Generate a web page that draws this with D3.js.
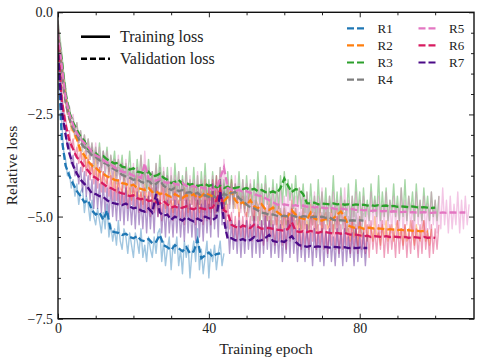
<!DOCTYPE html>
<html>
<head>
<meta charset="utf-8">
<script src="https://cdn.jsdelivr.net/npm/d3@7"></script>
<style>
  body { margin: 0; background: #fff; }
  text { font-family: "Liberation Serif", "Times New Roman", serif; fill: #222; }
</style>
</head>
<body>
<svg id="chart" width="479" height="361"></svg>
<script>
// runs, one colour each
const runNames = ["R1", "R2", "R3", "R4", "R5", "R6", "R7"];
const runColors = ["#1f77b4", "#ff7f0e", "#2ca02c", "#7f7f7f", "#e377c2", "#d81b60", "#4b0a87"];

// validation loss per epoch (index = epoch)
const valR1 = [-1.0,-3.1,-3.75,-4.0,-4.2,-4.38,-4.5,-4.65,-4.6,-4.85,-4.95,-4.9,-5.08,-4.85,-5.35,-5.38,-5.4,-5.45,-5.42,-5.5,
  -5.53,-5.48,-5.58,-5.6,-5.55,-5.65,-5.62,-5.45,-5.7,-5.75,-5.82,-5.7,-5.78,-5.85,-5.75,-5.9,-5.85,-5.57,-6.02,-5.95,
  -5.88,-5.98,-5.92,-5.9];
const valR2 = [-0.6,-1.45,-2.1,-2.6,-2.88,-3.1,-3.4,-3.5,-3.65,-3.75,-3.8,-3.9,-3.95,-4.02,-4.05,-4.1,-4.12,-4.18,-4.2,-4.25,
  -4.22,-4.3,-4.32,-4.35,-4.3,-4.4,-4.38,-4.45,-4.42,-4.48,-4.52,-4.45,-4.5,-4.55,-4.48,-4.5,-4.45,-4.55,-4.5,-4.42,
  -4.47,-4.5,-4.6,-4.55,-4.62,-4.52,-4.38,-4.6,-4.7,-4.65,-4.72,-4.6,-4.75,-4.8,-4.7,-4.82,-4.84,-4.78,-4.88,-4.95,
  -5.0,-4.98,-4.85,-4.95,-5.02,-5.05,-5.08,-4.9,-5.05,-5.08,-5.1,-5.06,-5.08,-5.05,-4.95,-4.88,-5.0,-5.22,-5.26,-5.28,
  -5.26,-5.3,-5.27,-5.28,-5.3,-5.29,-5.3,-5.32,-5.31,-5.32,-5.33,-5.32,-5.34,-5.33,-5.35,-5.34,-5.36,-5.35,-5.37];
const valR3 = [-0.5,-1.17,-1.98,-2.45,-2.7,-2.88,-3.05,-3.15,-3.35,-3.4,-3.45,-3.55,-3.52,-3.6,-3.65,-3.7,-3.68,-3.78,-3.8,-3.85,
  -3.82,-3.9,-3.92,-3.95,-3.9,-4.02,-4.0,-3.95,-4.05,-4.1,-4.18,-4.15,-4.1,-4.2,-4.18,-4.22,-4.2,-4.25,-4.23,-4.2,
  -4.25,-4.22,-4.28,-4.25,-4.3,-4.27,-4.32,-4.3,-4.28,-4.33,-4.3,-4.35,-4.32,-4.38,-4.35,-4.4,-4.42,-4.38,-4.43,-4.3,
  -4.07,-4.25,-4.4,-4.33,-4.35,-4.45,-4.67,-4.68,-4.66,-4.7,-4.68,-4.69,-4.7,-4.68,-4.7,-4.69,-4.71,-4.7,-4.72,-4.7,
  -4.72,-4.71,-4.73,-4.72,-4.74,-4.72,-4.74,-4.73,-4.75,-4.74,-4.76,-4.75,-4.76,-4.77,-4.75,-4.77,-4.78,-4.77,-4.78,-4.79,
  -4.78];
const valR4 = [-0.6,-1.5,-2.2,-2.6,-2.85,-3.0,-3.2,-3.3,-3.4,-3.5,-3.55,-3.62,-3.68,-3.72,-3.8,-3.85,-3.9,-3.98,-4.02,-4.05,
  -4.1,-4.08,-4.15,-4.18,-4.12,-4.22,-4.2,-4.1,-4.25,-4.3,-4.35,-4.3,-4.38,-4.35,-4.42,-4.4,-4.45,-4.42,-4.5,-4.48,
  -4.52,-4.48,-4.55,-4.5,-4.45,-4.48,-4.42,-4.4,-4.55,-4.62,-4.7,-4.78,-4.8,-4.85,-4.9,-4.92,-4.96,-4.95,-4.98,-5.0,
  -4.98,-5.0,-4.97,-5.0,-5.02,-4.99,-5.0,-5.02,-5.0,-5.01,-5.0,-5.03,-5.02,-5.08,-5.1,-5.09,-5.1,-5.1,-5.09,-5.1,
  -5.09,-5.1];
const valR5 = [-0.5,-1.3,-2.05,-2.5,-2.75,-2.95,-3.1,-3.2,-3.3,-3.42,-3.5,-3.55,-3.62,-3.68,-3.72,-3.8,-3.85,-3.9,-3.92,-3.95,
  -4.0,-4.02,-4.05,-3.7,-4.08,-4.1,-4.12,-4.08,-4.15,-4.18,-4.15,-4.2,-4.22,-4.18,-4.25,-4.28,-4.25,-4.3,-4.28,-4.32,
  -4.3,-4.35,-4.32,-4.05,-3.8,-4.3,-4.35,-4.38,-4.35,-4.4,-4.38,-4.42,-4.45,-4.48,-4.5,-4.55,-4.6,-4.65,-4.7,-4.72,
  -4.7,-4.72,-4.74,-4.72,-4.75,-4.73,-4.76,-4.75,-4.78,-4.76,-4.78,-4.8,-4.78,-4.8,-4.82,-4.8,-4.82,-4.83,-4.81,-4.84,
  -4.83,-4.85,-4.84,-4.86,-4.85,-4.86,-4.87,-4.86,-4.88,-4.87,-4.88,-4.89,-4.88,-4.9,-4.89,-4.9,-4.9,-4.89,-4.9,-4.91,
  -4.9,-4.91,-4.9,-4.91,-4.9,-4.9,-4.91,-4.9,-4.9];
const valR6 = [-0.8,-2.15,-2.75,-3.13,-3.35,-3.55,-3.65,-3.78,-3.88,-4.0,-4.05,-4.12,-4.2,-4.27,-4.3,-4.35,-4.4,-4.43,-4.45,-4.5,
  -4.48,-4.55,-4.58,-4.55,-4.62,-4.6,-4.65,-4.68,-4.62,-4.7,-4.78,-4.75,-4.8,-4.78,-4.75,-4.8,-4.82,-4.78,-4.8,-4.82,
  -4.8,-4.78,-4.6,-4.35,-4.85,-4.9,-5.2,-5.25,-5.28,-5.22,-5.25,-5.28,-5.2,-5.25,-5.3,-5.28,-5.28,-5.3,-5.32,-5.33,
  -5.35,-5.3,-5.14,-5.35,-5.38,-5.36,-5.38,-5.35,-5.38,-5.4,-5.37,-5.38,-5.4,-5.42,-5.4,-5.42,-5.4,-5.43,-5.45,-5.44,
  -5.46,-5.48,-5.47,-5.5,-5.48,-5.49,-5.5,-5.48,-5.5,-5.49,-5.5,-5.51,-5.5,-5.52,-5.5,-5.51,-5.52,-5.5,-5.52,-5.51,
  -5.52];
const valR7 = [-1.0,-2.4,-3.0,-3.45,-3.75,-3.95,-4.1,-4.2,-4.3,-4.43,-4.45,-4.5,-4.52,-4.6,-4.65,-4.68,-4.7,-4.72,-4.68,-4.75,
  -4.8,-4.78,-4.85,-4.88,-4.8,-4.9,-4.45,-4.9,-4.98,-4.95,-5.08,-5.0,-5.05,-5.1,-5.02,-5.08,-5.12,-5.05,-5.1,-5.0,
  -5.04,-5.08,-5.02,-4.4,-5.1,-5.55,-5.53,-5.58,-5.58,-5.55,-5.6,-5.57,-5.5,-5.6,-5.58,-5.52,-5.45,-5.6,-5.62,-5.6,
  -5.62,-5.55,-5.48,-5.62,-5.7,-5.72,-5.74,-5.72,-5.74,-5.73,-5.75,-5.74,-5.76,-5.74,-5.75,-5.76,-5.75,-5.77,-5.76,-5.77,
  -5.76,-5.77,-5.77];

// training loss, two points per epoch (index / 2 = epoch)
const trainStep = 0.5;
const trainR1 = [-0.4,-1.9,-2.7,-3.4,-3.6,-4.0,-3.9,-4.3,-4.1,-4.5,-4.2,-4.7,-4.4,-4.3,-4.9,-4.5,-4.7,-5.1,-4.6,-5.0,
  -5.2,-4.8,-5.1,-5.4,-4.9,-5.3,-4.7,-5.5,-5.2,-5.6,-5.3,-5.7,-5.1,-5.6,-5.8,-5.3,-5.5,-5.9,-5.4,-5.7,
  -6.0,-5.4,-5.6,-5.9,-5.3,-6.0,-5.7,-6.1,-5.5,-5.8,-6.0,-5.5,-5.9,-5.4,-5.3,-6.1,-5.6,-6.2,-5.8,-5.5,
  -6.3,-5.7,-5.9,-5.5,-6.2,-5.8,-6.4,-5.6,-6.0,-5.7,-6.5,-5.9,-5.6,-6.1,-5.3,-6.3,-5.8,-6.4,-6.0,-5.6,
  -6.5,-5.8,-6.1,-5.7,-6.3,-5.9,-5.6,-6.2,-5.9];
const trainR2 = [-0.3,-0.9,-1.5,-1.9,-2.2,-2.5,-2.5,-2.9,-2.8,-3.1,-3.0,-3.4,-3.3,-3.6,-3.4,-3.8,-3.5,-3.9,-3.7,-4.0,
  -3.6,-4.1,-3.8,-4.2,-3.9,-4.1,-4.2,-3.8,-4.0,-4.3,-3.9,-4.4,-4.1,-4.3,-4.4,-4.0,-4.2,-4.5,-4.1,-4.6,
  -4.3,-4.5,-4.0,-4.6,-4.4,-4.7,-4.2,-4.5,-4.6,-4.1,-4.5,-4.8,-4.3,-4.6,-4.7,-4.2,-4.5,-4.8,-4.3,-4.7,
  -4.6,-4.9,-4.2,-4.6,-4.7,-4.4,-4.8,-4.3,-4.6,-4.9,-4.4,-4.7,-4.2,-4.8,-4.6,-4.9,-4.3,-4.7,-4.1,-4.6,
  -4.8,-4.4,-4.7,-4.3,-4.9,-4.5,-4.4,-4.8,-4.6,-4.9,-4.3,-4.7,-4.1,-4.6,-4.8,-4.4,-5.0,-4.6,-4.5,-4.9,
  -5.0,-4.6,-4.4,-4.9,-5.1,-4.6,-4.7,-5.1,-4.5,-5.0,-4.8,-5.1,-4.6,-5.2,-4.7,-5.0,-5.2,-4.7,-4.9,-5.3,
  -4.8,-5.2,-5.0,-5.3,-4.6,-5.1,-4.8,-5.3,-5.0,-5.4,-4.8,-5.3,-5.1,-5.4,-4.7,-5.2,-4.9,-5.4,-5.1,-4.8,
  -5.4,-5.0,-4.9,-5.3,-5.2,-4.8,-5.4,-5.0,-4.8,-5.2,-4.7,-5.1,-5.0,-5.4,-5.2,-5.6,-5.1,-5.5,-5.3,-5.7,
  -5.0,-5.5,-5.4,-5.1,-5.6,-5.2,-5.3,-5.6,-5.0,-5.5,-5.4,-5.7,-5.2,-5.5,-5.1,-5.6,-5.4,-5.2,-5.6,-5.3,
  -5.1,-5.5,-5.3,-5.7,-5.2,-5.6,-5.5,-5.1,-5.4,-5.7,-5.2,-5.5,-5.6,-5.3,-5.1,-5.6,-5.4,-5.7,-5.3];
const trainR3 = [-0.2,-0.6,-1.0,-1.5,-1.8,-2.2,-2.3,-2.6,-2.6,-2.9,-2.7,-3.1,-2.9,-3.3,-3.0,-3.4,-3.1,-3.5,-3.2,-3.6,
  -3.3,-3.7,-3.2,-3.8,-3.4,-3.7,-3.3,-3.9,-3.5,-3.8,-3.4,-4.0,-3.6,-3.9,-3.5,-4.1,-3.7,-4.0,-3.4,-4.1,
  -3.8,-4.2,-3.6,-4.1,-3.5,-4.2,-3.8,-4.3,-3.6,-4.2,-3.9,-4.4,-3.7,-4.3,-3.5,-4.2,-3.9,-4.4,-3.8,-4.5,
  -4.0,-4.5,-3.7,-4.4,-3.9,-4.6,-4.0,-4.5,-3.8,-4.6,-4.1,-4.5,-3.8,-4.6,-4.0,-4.7,-3.9,-4.5,-3.7,-4.6,
  -4.1,-4.6,-3.9,-4.5,-4.0,-4.7,-3.8,-4.6,-4.1,-4.7,-3.9,-4.6,-4.0,-4.8,-4.2,-4.6,-3.9,-4.7,-4.1,-4.8,
  -4.0,-4.6,-4.2,-4.7,-4.1,-4.8,-3.9,-4.7,-4.2,-4.8,-4.0,-4.7,-4.3,-4.8,-4.1,-4.9,-4.2,-4.8,-4.0,-4.7,
  -3.9,-4.5,-4.1,-4.6,-4.2,-4.8,-4.0,-4.7,-4.3,-4.8,-4.2,-4.9,-4.4,-5.0,-4.2,-4.9,-4.5,-5.1,-4.1,-4.9,
  -4.4,-5.0,-4.3,-5.1,-4.5,-4.9,-4.0,-5.0,-4.4,-5.1,-4.3,-4.9,-4.6,-5.0,-4.2,-5.1,-4.5,-5.0,-4.1,-4.9,
  -4.4,-5.1,-4.3,-5.0,-4.6,-5.1,-4.2,-4.9,-4.5,-5.0,-4.0,-5.1,-4.4,-5.0,-4.3,-5.1,-4.6,-4.9,-4.2,-5.0,
  -4.5,-5.1,-4.3,-5.0,-4.1,-5.1,-4.5,-4.9,-4.4,-5.1,-4.2,-5.0,-4.6,-5.1,-4.3,-4.9,-4.5,-5.1,-4.4,-5.0,
  -4.6,-5.1,-4.5];
const trainR4 = [-0.3,-0.9,-1.4,-1.9,-2.2,-2.5,-2.5,-2.8,-2.7,-3.0,-2.9,-3.2,-3.0,-3.4,-3.1,-3.5,-3.3,-3.6,-3.3,-3.8,
  -3.4,-3.8,-3.5,-3.9,-3.4,-4.0,-3.6,-4.0,-3.7,-4.1,-3.6,-4.2,-3.8,-4.1,-3.7,-4.3,-3.9,-4.2,-3.8,-4.4,
  -4.0,-4.3,-3.8,-4.4,-4.0,-4.5,-3.9,-4.4,-4.1,-4.5,-3.9,-4.6,-4.1,-4.5,-3.8,-4.4,-4.1,-4.6,-4.0,-4.7,
  -4.2,-4.6,-4.1,-4.7,-4.2,-4.8,-4.1,-4.6,-4.3,-4.8,-4.2,-4.7,-4.3,-4.8,-4.2,-4.7,-4.4,-4.9,-4.2,-4.8,
  -4.4,-4.9,-4.3,-4.7,-4.4,-4.9,-4.3,-4.8,-4.2,-4.7,-4.3,-4.8,-4.1,-4.7,-4.2,-4.6,-4.4,-4.8,-4.4,-4.9,
  -4.5,-5.0,-4.6,-5.1,-4.6,-5.1,-4.7,-5.2,-4.7,-5.2,-4.8,-5.1,-4.7,-5.3,-4.8,-5.2,-4.7,-5.3,-4.8,-5.2,
  -4.7,-5.3,-4.9,-5.2,-4.7,-5.3,-4.8,-5.2,-4.9,-5.3,-4.7,-5.2,-4.8,-5.3,-4.9,-5.2,-4.8,-5.3,-4.7,-5.2,
  -4.9,-5.3,-4.8,-5.2,-4.9,-5.4,-4.8,-5.3,-5.0,-5.4,-4.8,-5.3,-4.9,-5.4,-5.0,-5.3,-4.8,-5.4,-4.9,-5.3,
  -5.0,-5.4,-4.9];
const trainR5 = [-0.2,-0.7,-1.1,-1.6,-1.9,-2.3,-2.3,-2.7,-2.5,-3.0,-2.7,-3.2,-2.9,-3.3,-3.0,-3.5,-3.1,-3.6,-3.2,-3.7,
  -3.2,-3.8,-3.3,-3.9,-3.4,-3.9,-3.4,-4.0,-3.5,-4.1,-3.6,-4.1,-3.5,-4.2,-3.7,-4.2,-3.6,-4.3,-3.8,-4.3,
  -3.7,-4.4,-3.8,-4.3,-3.5,-4.4,-3.4,-4.2,-3.8,-4.5,-3.9,-4.4,-3.7,-4.5,-3.9,-4.6,-3.8,-4.5,-4.0,-4.6,
  -3.8,-4.6,-4.0,-4.7,-3.9,-4.6,-4.1,-4.7,-3.9,-4.8,-4.0,-4.7,-4.1,-4.8,-3.9,-4.7,-4.1,-4.8,-4.0,-4.9,
  -4.2,-4.8,-4.0,-4.9,-4.1,-4.7,-3.8,-4.5,-3.6,-4.4,-4.1,-4.8,-4.2,-4.9,-4.0,-4.8,-4.2,-4.9,-4.1,-5.0,
  -4.2,-4.9,-4.1,-5.0,-4.3,-4.9,-4.2,-5.0,-4.3,-5.1,-4.2,-5.0,-4.4,-5.1,-4.3,-5.2,-4.4,-5.1,-4.3,-5.2,
  -4.5,-5.1,-4.3,-5.2,-4.4,-5.3,-4.5,-5.1,-4.3,-5.2,-4.5,-5.3,-4.4,-5.1,-4.6,-5.2,-4.4,-5.3,-4.5,-5.2,
  -4.3,-5.3,-4.6,-5.1,-4.5,-5.3,-4.4,-5.2,-4.6,-5.3,-4.5,-5.2,-4.3,-5.3,-4.6,-5.4,-4.5,-5.2,-4.4,-5.3,
  -4.6,-5.2,-4.5,-5.4,-4.7,-5.3,-4.4,-5.2,-4.6,-5.3,-4.5,-5.4,-4.7,-5.2,-4.4,-5.3,-4.6,-5.4,-4.5,-5.2,
  -4.7,-5.3,-4.3,-5.4,-4.6,-5.2,-4.5,-5.3,-4.7,-5.4,-4.4,-5.2,-4.6,-5.3,-4.5,-5.5,-4.7,-5.3,-4.4,-5.2,
  -4.6,-5.4,-4.5,-5.3,-4.3,-5.2,-4.6,-5.4,-4.5,-5.3,-4.7,-5.2,-4.4,-5.4,-4.6,-5.3,-4.5,-5.2,-4.7];
const trainR6 = [-0.4,-1.2,-1.9,-2.4,-2.6,-2.9,-2.9,-3.3,-3.1,-3.5,-3.3,-3.7,-3.4,-3.9,-3.5,-4.0,-3.6,-4.1,-3.7,-4.2,
  -3.8,-4.3,-3.8,-4.4,-3.9,-4.4,-4.0,-4.5,-4.0,-4.6,-4.1,-4.6,-4.1,-4.7,-4.2,-4.7,-4.2,-4.8,-4.3,-4.7,
  -4.2,-4.8,-4.3,-4.9,-4.4,-4.8,-4.3,-4.9,-4.4,-5.0,-4.3,-4.9,-4.5,-5.0,-4.4,-5.1,-4.3,-4.9,-4.5,-5.0,
  -4.5,-5.1,-4.4,-5.0,-4.6,-5.1,-4.5,-5.2,-4.4,-5.0,-4.6,-5.1,-4.5,-5.2,-4.4,-5.1,-4.6,-5.2,-4.5,-5.1,
  -4.3,-5.2,-4.1,-5.0,-4.0,-4.8,-4.1,-4.9,-4.6,-5.2,-4.7,-5.3,-4.9,-5.5,-5.0,-5.6,-4.9,-5.5,-5.0,-5.6,
  -4.9,-5.5,-5.0,-5.6,-4.8,-5.5,-5.0,-5.6,-5.1,-5.7,-4.9,-5.6,-5.0,-5.5,-5.1,-5.7,-5.0,-5.6,-5.1,-5.7,
  -5.0,-5.8,-4.9,-5.6,-4.8,-5.5,-5.1,-5.7,-5.0,-5.8,-5.1,-5.7,-5.2,-5.8,-5.0,-5.6,-5.1,-5.8,-5.2,-5.7,
  -5.0,-5.8,-5.2,-5.9,-5.1,-5.7,-5.2,-5.8,-5.0,-5.9,-5.2,-5.8,-5.1,-5.7,-5.3,-5.9,-5.1,-5.8,-5.2,-5.9,
  -5.1,-5.8,-5.3,-5.9,-5.2,-6.0,-5.1,-5.8,-5.3,-5.9,-5.2,-5.8,-5.1,-6.0,-5.3,-5.9,-5.2,-5.8,-5.3,-6.0,
  -5.1,-5.9,-5.3,-5.8,-5.2,-6.0,-5.3,-5.9,-5.1,-5.8,-5.3,-6.0,-5.2,-5.9,-5.1,-5.8,-5.3,-6.0,-5.2,-5.9,
  -5.3,-5.8,-5.2];
const trainR7 = [-0.5,-1.5,-2.1,-2.7,-2.9,-3.3,-3.2,-3.7,-3.5,-4.0,-3.7,-4.2,-3.8,-4.4,-3.9,-4.5,-4.0,-4.6,-4.1,-4.8,
  -4.1,-4.8,-4.2,-4.9,-4.2,-4.9,-4.3,-5.0,-4.3,-5.0,-4.4,-5.1,-4.3,-5.1,-4.4,-5.2,-4.3,-5.1,-4.5,-5.2,
  -4.5,-5.3,-4.4,-5.2,-4.6,-5.3,-4.5,-5.4,-4.5,-5.3,-4.6,-5.4,-4.2,-5.0,-4.6,-5.4,-4.7,-5.5,-4.6,-5.4,
  -4.8,-5.5,-4.6,-5.4,-4.7,-5.5,-4.8,-5.6,-4.6,-5.4,-4.7,-5.5,-4.8,-5.6,-4.6,-5.5,-4.7,-5.6,-4.6,-5.4,
  -4.7,-5.5,-4.2,-5.3,-4.6,-5.5,-4.1,-5.2,-4.4,-5.4,-5.1,-5.9,-5.1,-5.8,-5.2,-5.9,-5.1,-6.0,-5.2,-5.9,
  -5.1,-5.8,-5.2,-6.0,-5.0,-5.9,-5.2,-6.0,-5.1,-5.9,-5.0,-5.8,-5.1,-6.0,-5.2,-5.9,-5.3,-6.0,-5.2,-6.1,
  -5.3,-5.9,-5.1,-6.0,-5.0,-5.9,-5.3,-6.1,-5.3,-6.0,-5.4,-6.1,-5.2,-6.0,-5.4,-6.2,-5.3,-6.0,-5.4,-6.1,
  -5.3,-6.2,-5.4,-6.0,-5.3,-6.1,-5.5,-6.2,-5.3,-6.0,-5.4,-6.2,-5.3,-6.1,-5.5,-6.0,-5.4,-6.2,-5.3,-6.1,
  -5.5,-6.0,-5.4,-6.2,-5.5];

const valRuns = [valR1, valR2, valR3, valR4, valR5, valR6, valR7];
const trainRuns = [trainR1, trainR2, trainR3, trainR4, trainR5, trainR6, trainR7];

const xMajor = [0, 40, 80];
const xMinor = [10, 20, 30, 50, 60, 70, 90, 100];
const yMajor = [0, -2.5, -5, -7.5];
const yMinor = [-0.5, -1, -1.5, -2, -3, -3.5, -4, -4.5, -5.5, -6, -6.5, -7];

const width = 479, height = 361;
const margin = { left: 58, top: 12.3, right: 5, bottom: 42.3 };

const svg = d3.select("#chart");

const x = d3.scaleLinear().domain([0, 110.3]).range([margin.left, width - margin.right]);
const y = d3.scaleLinear().domain([-7.5, 0]).range([height - margin.bottom, margin.top]);

svg.append("clipPath").attr("id", "plotclip")
  .append("rect")
  .attr("x", margin.left).attr("y", margin.top)
  .attr("width", width - margin.left - margin.right)
  .attr("height", height - margin.top - margin.bottom);

const valLine = d3.line()
  .x((d, i) => x(i))
  .y(d => y(d));
const trainLine = d3.line()
  .x((d, i) => x(i * trainStep))
  .y(d => y(d));

const plot = svg.append("g").attr("clip-path", "url(#plotclip)");

// training loss first, light
trainRuns.forEach((run, k) => {
  plot.append("path")
    .attr("d", trainLine(run))
    .attr("fill", "none")
    .attr("stroke", runColors[k])
    .attr("stroke-opacity", 0.42)
    .attr("stroke-width", 1.4)
    .attr("stroke-linejoin", "round");
});

// validation dashed on top
valRuns.forEach((run, k) => {
  plot.append("path")
    .attr("d", valLine(run))
    .attr("fill", "none")
    .attr("stroke", runColors[k])
    .attr("stroke-width", 2.3)
    .attr("stroke-dasharray", "7,3");
});

// axes, ticks pointing inward on all four sides
const fmt = d3.format(".1f");
const tickFont = g => g.selectAll("text").style("font-size", "14px").attr("fill", "#222");
const noDomain = g => g.select(".domain").remove();

svg.append("g").attr("transform", `translate(0,${y(-7.5)})`)
  .call(d3.axisBottom(x).tickValues(xMajor).tickSize(-5).tickPadding(4).tickFormat(d3.format("d")))
  .call(noDomain).call(tickFont);
svg.append("g").attr("transform", `translate(0,${y(-7.5)})`)
  .call(d3.axisBottom(x).tickValues(xMinor).tickSize(-3).tickFormat(""))
  .call(noDomain);
svg.append("g").attr("transform", `translate(0,${y(0)})`)
  .call(d3.axisTop(x).tickValues(xMajor).tickSize(-5).tickFormat(""))
  .call(noDomain);
svg.append("g").attr("transform", `translate(0,${y(0)})`)
  .call(d3.axisTop(x).tickValues(xMinor).tickSize(-3).tickFormat(""))
  .call(noDomain);

svg.append("g").attr("transform", `translate(${x(0)},0)`)
  .call(d3.axisLeft(y).tickValues(yMajor).tickSize(-5).tickPadding(5).tickFormat(fmt))
  .call(noDomain).call(tickFont);
svg.append("g").attr("transform", `translate(${x(0)},0)`)
  .call(d3.axisLeft(y).tickValues(yMinor).tickSize(-3).tickFormat(""))
  .call(noDomain);
svg.append("g").attr("transform", `translate(${x(110.3)},0)`)
  .call(d3.axisRight(y).tickValues(yMajor).tickSize(-5).tickFormat(""))
  .call(noDomain);
svg.append("g").attr("transform", `translate(${x(110.3)},0)`)
  .call(d3.axisRight(y).tickValues(yMinor).tickSize(-3).tickFormat(""))
  .call(noDomain);

svg.selectAll(".tick line").attr("stroke", "#222").attr("stroke-width", 1);

// frame
svg.append("rect")
  .attr("x", x(0)).attr("y", y(0))
  .attr("width", x(110.3) - x(0)).attr("height", y(-7.5) - y(0))
  .attr("fill", "none").attr("stroke", "#111").attr("stroke-width", 1.4);

// axis labels
svg.append("text")
  .attr("x", (x(0) + x(110.3)) / 2).attr("y", 354)
  .attr("text-anchor", "middle").style("font-size", "15.5px")
  .text("Training epoch");
svg.append("text")
  .attr("transform", `translate(17,${(y(0) + y(-7.5)) / 2}) rotate(-90)`)
  .attr("text-anchor", "middle").style("font-size", "15.5px")
  .text("Relative loss");

// legend: line styles
const styleLegend = [
  { label: "Training loss", dash: null, y: 36.7 },
  { label: "Validation loss", dash: "6,3", y: 58.7 }
];
styleLegend.forEach(s => {
  svg.append("line")
    .attr("x1", 81).attr("x2", 110).attr("y1", s.y).attr("y2", s.y)
    .attr("stroke", "#000").attr("stroke-width", 2.6)
    .attr("stroke-dasharray", s.dash);
  svg.append("text")
    .attr("x", 120).attr("y", s.y + 5.5)
    .style("font-size", "16px")
    .text(s.label);
});

// legend: runs, two columns
runNames.forEach((name, i) => {
  const col = i < 4 ? 0 : 1;
  const row = i < 4 ? i : i - 4;
  const lx = col === 0 ? 347 : 418.5;
  const ly = 28.3 + row * 17.1;
  svg.append("line")
    .attr("x1", lx).attr("x2", lx + 17).attr("y1", ly).attr("y2", ly)
    .attr("stroke", runColors[i]).attr("stroke-width", 2.2)
    .attr("stroke-dasharray", "7,3");
  svg.append("text")
    .attr("x", lx + 30.5).attr("y", ly + 4.5)
    .style("font-size", "13px")
    .text(name);
});
</script>
</body>
</html>
